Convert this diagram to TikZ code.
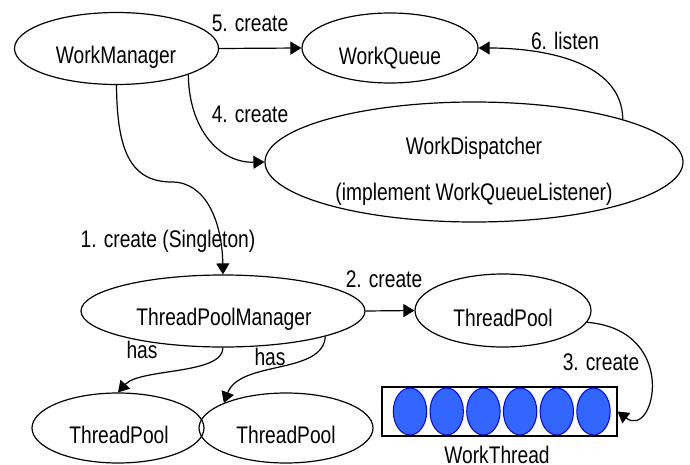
\documentclass[tikz,border=0pt]{standalone}
\usepackage{fontspec}
\setmainfont{Liberation Sans}[FakeStretch=0.8]
\usetikzlibrary{shapes.geometric,arrows.meta}
\definecolor{threadblue}{RGB}{51,102,255}
\begin{document}
\begin{tikzpicture}[x=0.5pt,y=-0.5pt,
  every node/.style={font=\fontsize{12pt}{14pt}\selectfont},
  oval/.style={draw, ellipse, inner sep=0pt, line width=0.6pt},
  txt/.style={anchor=base, inner sep=0pt},
  conn/.style={line width=0.6pt, -{Triangle[length=5.5pt,width=6.5pt]}},
  thread/.style={draw=blue, fill=threadblue, ellipse, inner sep=0pt,
                 minimum width=16.7pt, minimum height=23.5pt, line width=0.5pt},
  poolbox/.style={draw, rectangle, inner sep=0pt, line width=0.6pt}
]
\useasboundingbox (0,0) rectangle (690,465);

% class ovals
\node[oval, minimum width=102pt, minimum height=36pt] (wm)  at (116.5,48.5) {};
\node[oval, minimum width=88pt,  minimum height=35pt] (wq)  at (390,48) {};
\node[oval, minimum width=209pt, minimum height=60pt] (wd)  at (474,162) {};
\node[oval, minimum width=142pt, minimum height=36pt] (tpm) at (223,311) {};
\node[oval, minimum width=88pt,  minimum height=36.5pt] (tp) at (503,310.5) {};
\node[oval, minimum width=86pt,  minimum height=35pt] (tpl) at (118,428) {};
\node[oval, minimum width=87pt,  minimum height=35pt] (tpr) at (286,428) {};

% names inside the ovals
\node[txt] (wmt)  at (116,64)  {WorkManager};
\node[txt] (wqt)  at (390,65)  {WorkQueue};
\node[txt] (wdt)  at (474,155) {WorkDispatcher};
\node[txt] (wdt2) at (474,200) {(implement WorkQueueListener)};
\node[txt] (tpmt) at (224,325) {ThreadPoolManager};
\node[txt] (tpt)  at (503,326) {ThreadPool};
\node[txt] (tplt) at (119,443) {ThreadPool};
\node[txt] (tprt) at (286,443) {ThreadPool};

% worker threads in their pool box
\node[poolbox, minimum width=117.5pt, minimum height=24.5pt] (wt) at (499.5,411.5) {};
\foreach \i in {0,...,5}
  \node[thread] (th\i) at (410+36.7*\i,411.5) {};
\node[txt] (wtt) at (497,463) {WorkThread};

% connectors
\draw[conn] (wm.east) -- (wq.west);
\draw[conn] (wm.-20) .. controls (189,130) and (220,163) .. (wd.west);
\draw[conn] (wd.16) .. controls (622,60) and (540,48) .. (wq.east);
\draw[conn] (wm.south) .. controls (117,150) and (130,182) .. (172,182)
                       .. controls (205,182) and (222,220) .. (tpm.north);
\draw[conn] (tpm.east) -- (tp.west);
\draw[conn] (tp.-8) .. controls (680,330) and (655,440) .. (wt.east);
\draw[conn] (tpm.south) .. controls (223,375) and (140,368) .. (tpl.north);
\draw[conn] (tpm.-14) .. controls (323,375) and (240,360) .. (tpr.158);

% connector labels
\node[txt] (l5) at (250,32)  {5. create};
\node[txt] (l4) at (250,122) {4. create};
\node[txt] (l6) at (565,50)  {6. listen};
\node[txt] (l1) at (168,247) {1. create (Singleton)};
\node[txt] (l2) at (384,287) {2. create};
\node[txt] (l3) at (601,370) {3. create};
\node[txt] (lh1) at (142,358) {has};
\node[txt] (lh2) at (270,365) {has};
\end{tikzpicture}
\end{document}
